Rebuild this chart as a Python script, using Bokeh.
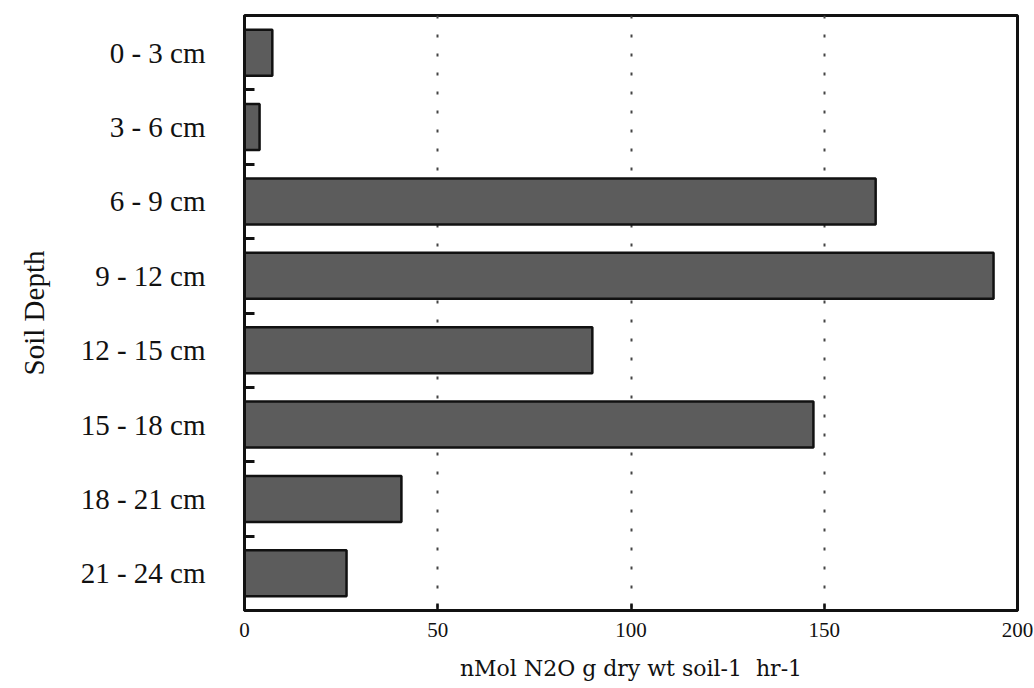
from bokeh.plotting import figure
from bokeh.models import Range1d, FixedTicker, ColumnDataSource
from bokeh.embed import file_html
from bokeh.resources import INLINE

depths = ["0 - 3 cm", "3 - 6 cm", "6 - 9 cm", "9 - 12 cm",
          "12 - 15 cm", "15 - 18 cm", "18 - 21 cm", "21 - 24 cm"]
n2o = [7.2, 3.9, 163.3, 193.8, 90.0, 147.2, 40.6, 26.4]
x_ticks = [0, 50, 100, 150, 200]

pos = [i + 0.5 for i in range(len(depths))]
bounds = [i for i in range(1, len(depths))]
src = ColumnDataSource(dict(y=pos, right=n2o, label=depths))

p = figure(width=1034, height=688, output_backend="svg", toolbar_location=None,
           x_range=Range1d(0, 200), y_range=Range1d(len(depths), 0),
           min_border_left=244, min_border_right=17, min_border_top=15,
           min_border_bottom=78)

p.hbar(y="y", left=0, right="right", height=0.62, source=src,
       fill_color="#5c5c5c", line_color="#111111", line_width=2.5)

serif = "Liberation Serif"
p.xaxis.ticker = FixedTicker(ticks=x_ticks)
p.xaxis.axis_label = "nMol N2O g dry wt soil-1\u00a0\u00a0hr-1"
p.xaxis.axis_label_text_font = "DejaVu Serif"
p.xaxis.axis_label_text_font_size = "22px"
p.xaxis.axis_label_text_font_style = "normal"
p.xaxis.axis_label_text_color = "#111111"
p.xaxis.axis_label_standoff = 16
p.xaxis.major_label_text_font = serif
p.xaxis.major_label_text_font_size = "21px"
p.xaxis.major_label_text_color = "#111111"
p.xaxis.major_label_standoff = 12
p.xaxis.major_tick_in = 7
p.xaxis.major_tick_out = 0
p.xaxis.major_tick_line_width = 2.5
p.xaxis.major_tick_line_color = "#111111"
p.xaxis.minor_tick_line_color = None
p.xaxis.axis_line_width = 3
p.xaxis.axis_line_color = "#111111"

p.yaxis.ticker = FixedTicker(ticks=pos, minor_ticks=bounds)
p.yaxis.major_label_overrides = {v: d for v, d in zip(pos, depths)}
p.yaxis.axis_label = "Soil Depth"
p.yaxis.axis_label_text_font = serif
p.yaxis.axis_label_text_font_size = "29px"
p.yaxis.axis_label_text_font_style = "normal"
p.yaxis.axis_label_text_color = "#111111"
p.yaxis.axis_label_standoff = 28
p.yaxis.major_label_text_font = serif
p.yaxis.major_label_text_font_size = "29px"
p.yaxis.major_label_text_color = "#111111"
p.yaxis.major_label_standoff = 33
p.yaxis.major_tick_line_color = None
p.yaxis.minor_tick_in = 10
p.yaxis.minor_tick_out = 0
p.yaxis.minor_tick_line_width = 3
p.yaxis.minor_tick_line_color = "#111111"
p.yaxis.axis_line_width = 3
p.yaxis.axis_line_color = "#111111"

p.ygrid.grid_line_color = None
p.xgrid.grid_line_color = "#444444"
p.xgrid.grid_line_dash = "3 16"
p.xgrid.grid_line_width = 2

p.outline_line_color = "#111111"
p.outline_line_width = 3
p.outline_line_alpha = 1

open("out.html", "w").write(file_html(p, INLINE))
